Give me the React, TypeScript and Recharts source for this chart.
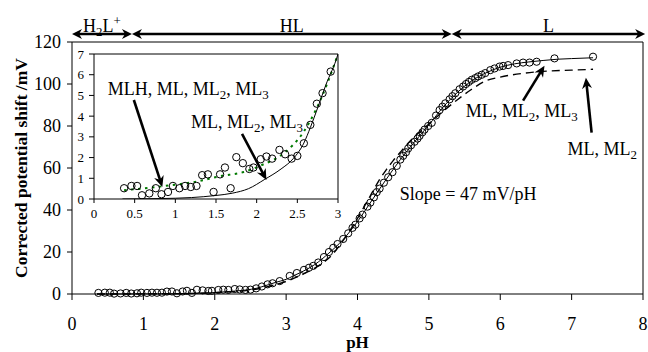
import React from 'react';
import { ComposedChart, Line, Scatter, XAxis, YAxis, ReferenceLine, ReferenceDot, Label } from 'recharts';

const FONT = "'Liberation Serif', 'Times New Roman', serif";

// Observed corrected potential shift (mV) vs pH
const obsPH = [
  0.37, 0.46, 0.53, 0.59, 0.68, 0.76, 0.83, 0.91, 0.97, 1.05, 1.12, 1.19, 1.26, 1.33, 1.40, 1.47, 1.55, 1.61,
  1.68, 1.75, 1.83, 1.91, 1.96, 2.05, 2.12, 2.19, 2.28, 2.35, 2.43, 2.50, 2.58, 2.66, 2.74, 2.81, 2.91,
  3.05, 3.15, 3.25, 3.32, 3.38, 3.45, 3.53, 3.60, 3.66, 3.72, 3.80, 3.87, 3.93, 3.97, 4.03, 4.07, 4.14, 4.18,
  4.23, 4.27, 4.31, 4.37, 4.43, 4.49, 4.55, 4.60, 4.64, 4.68, 4.71, 4.75, 4.80, 4.84, 4.87, 4.91, 4.94, 4.99,
  5.04, 5.10, 5.15, 5.19, 5.23, 5.29, 5.33, 5.37, 5.43, 5.48, 5.52, 5.56, 5.60, 5.65, 5.69, 5.74, 5.79, 5.86,
  5.92, 5.99, 6.04, 6.11, 6.23, 6.32, 6.41, 6.51, 6.76, 7.30,
];
const obsShift = [
  0.52, 0.63, 0.63, 0.18, 0.27, 0.52, 0.23, 0.34, 0.63, 0.52, 0.63, 0.58, 0.63, 1.15, 1.19, 0.34, 1.19, 1.52,
  0.52, 2.02, 1.73, 1.45, 1.52, 1.92, 2.05, 1.95, 2.37, 2.16, 1.95, 2.08, 2.69, 3.58, 4.60, 5.11, 6.15,
  8.6, 10.0, 11.5, 12.5, 13.4, 15.0, 17.6, 20.0, 22.0, 23.8, 26.2, 28.9, 31.5, 33.0, 36.0, 37.8, 41.6, 43.5,
  46.0, 48.5, 50.2, 53.0, 55.6, 58.0, 61.0, 64.0, 65.8, 67.5, 69.3, 70.8, 72.5, 74.0, 75.3, 77.0, 78.3, 80.0,
  81.5, 85.0, 87.6, 89.2, 90.8, 92.7, 94.2, 95.6, 97.5, 98.8, 100.0, 101.0, 102.0, 102.8, 103.6, 104.4, 105.2, 106.6,
  107.4, 108.3, 108.6, 109.0, 109.8, 110.2, 110.2, 110.6, 112.2, 113.0,
];

// Model: ML, ML2, ML3 (solid)
const fit3PH = [0.35, 0.8, 1.2, 1.5, 1.7, 1.9, 2.1, 2.3, 2.45, 2.58, 2.66, 2.75, 2.85, 3.0, 3.1, 3.2, 3.4, 3.6, 3.8,
  4.0, 4.2, 4.4, 4.6, 4.8, 5.0, 5.2, 5.4, 5.6, 5.8, 6.0, 6.2, 6.4, 6.6, 6.8, 7.0, 7.3];
const fit3Shift = [0.0, 0.02, 0.07, 0.17, 0.28, 0.5, 0.95, 1.45, 1.95, 2.7, 3.45, 4.4, 5.5, 7.0, 8.6, 10.2, 14.0, 19.5, 26.0,
  34.5, 44.5, 54.5, 64.0, 72.5, 80.5, 89.0, 96.0, 101.5, 105.3, 108.0, 109.6, 110.5, 111.2, 111.8, 112.1, 112.5];

// Model: ML, ML2 (dashed)
const fit2PH = [0.35, 1.5, 2.0, 2.5, 2.8, 3.0, 3.3, 3.5, 3.64, 3.8, 3.9, 4.0, 4.1, 4.2, 4.3, 4.4, 4.5, 4.6, 4.7,
  4.8, 4.9, 5.0, 5.2, 5.4, 5.6, 5.8, 6.0, 6.3, 6.6, 7.0, 7.3];
const fit2Shift = [0.0, 0.15, 0.65, 1.9, 4.0, 6.0, 10.5, 14.5, 18.5, 25.5, 30.5, 36.0, 42.0, 48.0, 54.0, 59.0, 63.5, 67.5, 71.5,
  75.0, 78.0, 81.0, 87.0, 92.5, 97.5, 101.5, 103.3, 105.0, 106.0, 106.6, 107.0];

// Model: MLH, ML, ML2, ML3 (green dotted, inset)
const fitHPH = [0.37, 0.85, 1.26, 1.55, 1.84, 2.04, 2.33, 2.57, 2.74, 2.87, 3.0];
const fitHShift = [0.42, 0.62, 0.84, 1.1, 1.3, 1.6, 2.2, 3.2, 4.4, 5.6, 7.0];

const mainXTicks = [0, 1, 2, 3, 4, 5, 6, 7, 8];
const mainYTicks = [0, 20, 40, 60, 80, 100, 120];
const insetXTicks = [0, 0.5, 1, 1.5, 2, 2.5, 3];
const insetYTicks = [0, 1, 2, 3, 4, 5, 6, 7];

const regionBounds = [0, 0.84, 5.32, 8.03];
const regionNames = ['H_2L^+', 'HL', 'L'];

const zip = (xs: number[], ys: number[]) => xs.map((x, i) => ({ x, y: ys[i] }));
const obs = zip(obsPH, obsShift);
const fit3 = zip(fit3PH, fit3Shift);
const fit2 = zip(fit2PH, fit2Shift);
const fitH = zip(fitHPH, fitHShift);
const insetObs = obs.filter((d) => d.x <= 3.0 && d.y <= 7.2);
const insetFit3 = fit3.filter((d) => d.x <= 3.2);

function rich(s: string, fs: number) {
  const out: any[] = [];
  let cur = 0;
  let buf = '';
  let k = 0;
  const flush = () => {
    if (buf) {
      out.push(<tspan key={k++} dy={0 - cur}>{buf}</tspan>);
      cur = 0;
      buf = '';
    }
  };
  for (let i = 0; i < s.length; i++) {
    const c = s[i];
    if ((c === '_' || c === '^') && i + 1 < s.length) {
      flush();
      const off = c === '_' ? fs * 0.22 : -fs * 0.42;
      out.push(<tspan key={k++} dy={off - cur} fontSize={fs * 0.72}>{s[i + 1]}</tspan>);
      cur = off;
      i++;
    } else buf += c;
  }
  flush();
  return out;
}

const textShape = (s: string, fs: number) => (p: any) => (
  <text x={p.cx} y={p.cy} textAnchor="middle" fontFamily={FONT} fontSize={fs} fill="#000">
    {rich(s, fs)}
  </text>
);

function headPts(tx: number, ty: number, ux: number, uy: number, hl: number, hw: number) {
  const bx = tx - ux * hl;
  const by = ty - uy * hl;
  const nx = tx - ux * hl * 0.7;
  const ny = ty - uy * hl * 0.7;
  return `${tx},${ty} ${bx - uy * hw},${by + ux * hw} ${nx},${ny} ${bx + uy * hw},${by - ux * hw}`;
}

const arrowShape = (both: boolean, sw: number, hl: number, hw: number) => (p: any) => {
  const { x1, y1, x2, y2 } = p;
  const dx = x2 - x1;
  const dy = y2 - y1;
  const len = Math.hypot(dx, dy) || 1;
  const ux = dx / len;
  const uy = dy / len;
  const sx = both ? x1 + ux * hl * 0.6 : x1;
  const sy = both ? y1 + uy * hl * 0.6 : y1;
  const ex = x2 - ux * hl * 0.6;
  const ey = y2 - uy * hl * 0.6;
  return (
    <g>
      <line x1={sx} y1={sy} x2={ex} y2={ey} stroke="#000" strokeWidth={sw} />
      <polygon points={headPts(x2, y2, ux, uy, hl, hw)} fill="#000" />
      {both ? <polygon points={headPts(x1, y1, -ux, -uy, hl, hw)} fill="#000" /> : null}
    </g>
  );
};

const circleShape = (r: number) => (p: any) => (
  <circle cx={p.cx} cy={p.cy} r={r} fill="none" stroke="#000" strokeWidth={1} />
);

const xLabel = (props: any) => {
  const vb = props.viewBox;
  return (
    <text x={vb.x + vb.width / 2} y={vb.y + 54} textAnchor="middle" fontFamily={FONT} fontWeight="bold" fontSize={17} fill="#000">
      pH
    </text>
  );
};
const yLabel = (props: any) => {
  const vb = props.viewBox;
  const cx = vb.x + 27;
  const cy = vb.y + vb.height / 2;
  return (
    <text transform={`translate(${cx},${cy}) rotate(-90)`} textAnchor="middle" fontFamily={FONT} fontWeight="bold" fontSize={17.5} fill="#000">
      Corrected potential shift /mV
    </text>
  );
};

const ARROW_Y = 123.8;
const REGION_LABEL_Y = 124.6;

export default function App() {
  const tickMain = { fill: '#000', fontSize: 18, fontFamily: FONT };
  const tickInset = { fill: '#000', fontSize: 13, fontFamily: FONT };
  return (
    <div style={{ position: 'fixed', left: 0, top: 0, width: 648, height: 352, background: '#fff', fontFamily: FONT }}>
      <div style={{ position: 'absolute', left: 0, top: 0 }}>
        <ComposedChart width={648} height={352} margin={{ top: 42, right: 5, bottom: 28, left: 0 }}>
          <XAxis type="number" dataKey="x" domain={[0, 8]} ticks={mainXTicks} interval={0} height={30}
            tickSize={6} tickMargin={17} stroke="#000" tick={tickMain} label={<Label content={xLabel} />} />
          <YAxis type="number" dataKey="y" domain={[0, 120]} ticks={mainYTicks} interval={0} width={72}
            tickSize={5} tickMargin={6} stroke="#000" tick={tickMain} label={<Label content={yLabel} />} />
          <ReferenceLine y={120} stroke="#000" strokeWidth={1} />
          <ReferenceLine x={8} stroke="#000" strokeWidth={1} />
          <Line data={fit2} dataKey="y" type="monotone" stroke="#000" strokeWidth={1.4} strokeDasharray="8 5"
            dot={false} isAnimationActive={false} />
          <Line data={fit3} dataKey="y" type="monotone" stroke="#000" strokeWidth={1} dot={false} isAnimationActive={false} />
          <Scatter data={obs} shape={circleShape(3.6)} isAnimationActive={false} />
          {regionNames.map((n, i) => (
            <ReferenceLine key={'ra' + i} ifOverflow="visible"
              segment={[{ x: regionBounds[i], y: ARROW_Y }, { x: regionBounds[i + 1], y: ARROW_Y }]}
              shape={arrowShape(true, 2.6, 10, 5)} />
          ))}
          {regionNames.map((n, i) => (
            <ReferenceDot key={'rl' + i} ifOverflow="visible" x={(regionBounds[i] + regionBounds[i + 1]) / 2}
              y={REGION_LABEL_Y} r={0} shape={textShape(n, 18)} />
          ))}
          <ReferenceDot x={5.55} y={45} r={0} ifOverflow="visible" shape={textShape('Slope = 47 mV/pH', 18)} />
          <ReferenceDot x={6.3} y={84.5} r={0} ifOverflow="visible" shape={textShape('ML, ML_2, ML_3', 18)} />
          <ReferenceDot x={7.43} y={66.4} r={0} ifOverflow="visible" shape={textShape('ML, ML_2', 18)} />
          <ReferenceLine ifOverflow="visible" segment={[{ x: 6.32, y: 92.1 }, { x: 6.62, y: 108.7 }]}
            shape={arrowShape(false, 2.6, 11, 5)} />
          <ReferenceLine ifOverflow="visible" segment={[{ x: 7.28, y: 76.9 }, { x: 7.2, y: 103 }]}
            shape={arrowShape(false, 2.6, 11, 5)} />
        </ComposedChart>
      </div>
      <div style={{ position: 'absolute', left: 54, top: 44 }}>
        <ComposedChart width={300} height={186} margin={{ top: 10, right: 16, bottom: 6, left: 0 }}>
          <XAxis type="number" dataKey="x" domain={[0, 3]} ticks={insetXTicks} interval={0} height={25}
            allowDataOverflow tickSize={4} tickMargin={6} stroke="#000" tick={tickInset} />
          <YAxis type="number" dataKey="y" domain={[0, 7]} ticks={insetYTicks} interval={0} width={40}
            allowDataOverflow tickSize={5} tickMargin={5} stroke="#000" tick={tickInset} />
          <ReferenceLine y={7} stroke="#000" strokeWidth={1} />
          <ReferenceLine x={3} stroke="#000" strokeWidth={1} />
          <Line data={fitH} dataKey="y" type="monotone" stroke="#007a00" strokeWidth={2} strokeDasharray="2.5 4.5"
            dot={false} isAnimationActive={false} />
          <Line data={insetFit3} dataKey="y" type="monotone" stroke="#000" strokeWidth={1} dot={false} isAnimationActive={false} />
          <Scatter data={insetObs} shape={circleShape(3.7)} isAnimationActive={false} />
          <ReferenceDot x={1.16} y={5.02} r={0} ifOverflow="visible" shape={textShape('MLH, ML, ML_2, ML_3', 18)} />
          <ReferenceDot x={1.88} y={3.43} r={0} ifOverflow="visible" shape={textShape('ML, ML_2, ML_3', 18)} />
          <ReferenceLine ifOverflow="visible" segment={[{ x: 0.49, y: 4.78 }, { x: 0.84, y: 0.58 }]}
            shape={arrowShape(false, 2.6, 11, 5)} />
          <ReferenceLine ifOverflow="visible" segment={[{ x: 1.82, y: 3.14 }, { x: 2.12, y: 0.92 }]}
            shape={arrowShape(false, 2.6, 11, 5)} />
        </ComposedChart>
      </div>
    </div>
  );
}
